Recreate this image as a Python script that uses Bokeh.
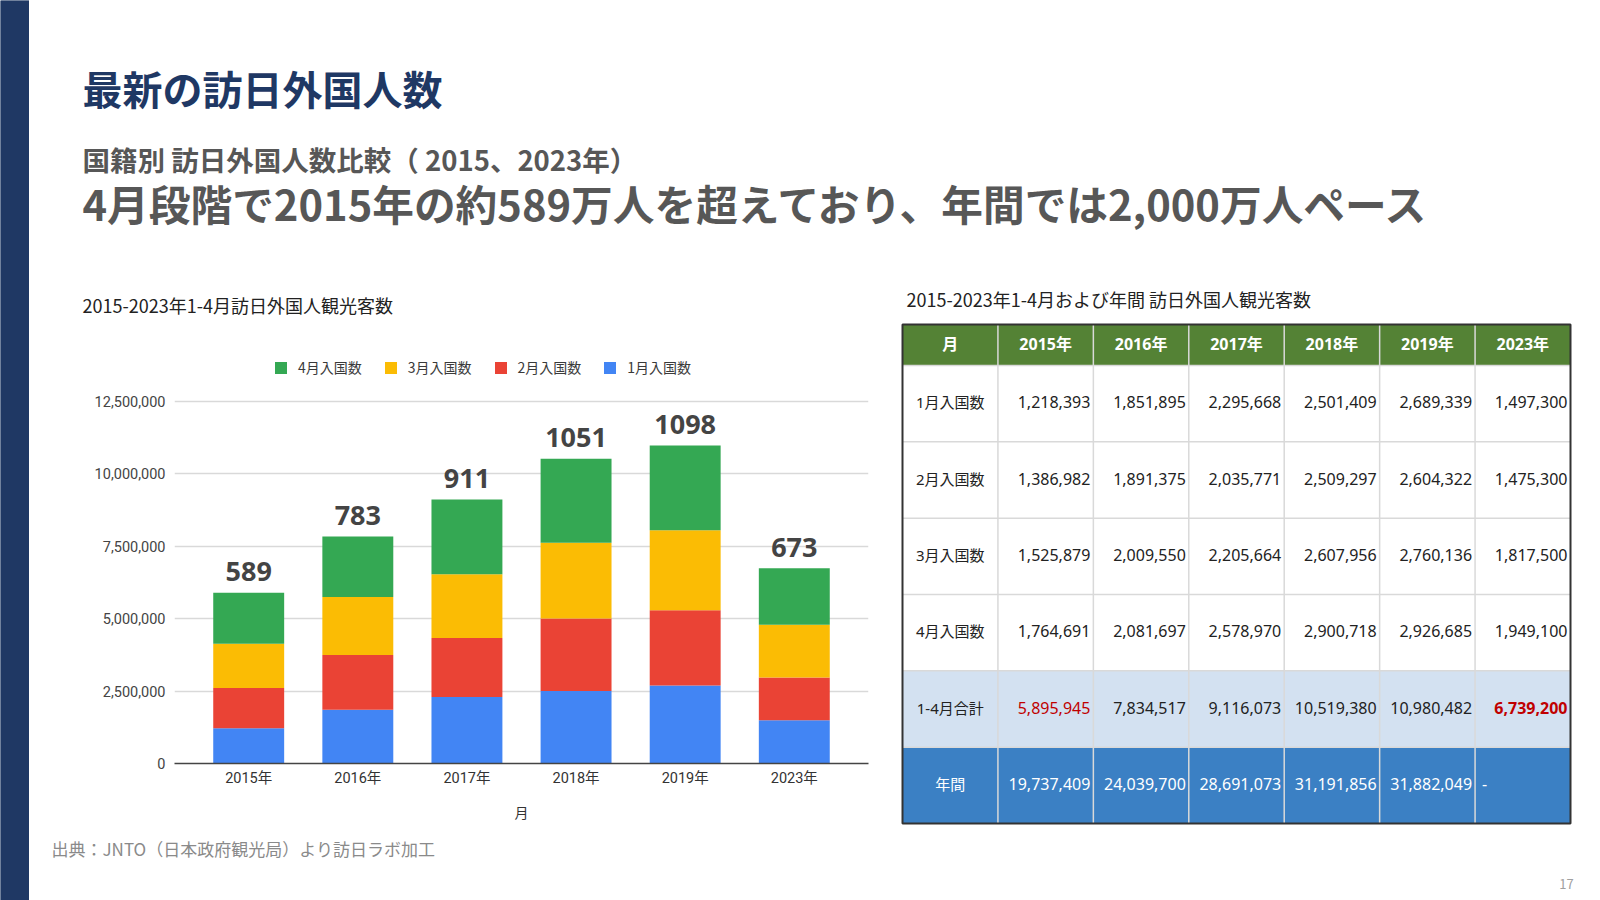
from bokeh.plotting import figure
from bokeh.models import (ColumnDataSource, FactorRange, Range1d, FixedTicker,
                          NumeralTickFormatter, Legend, LegendItem, LabelSet)
from bokeh.layouts import row, column
from bokeh.core.properties import value
from bokeh.embed import file_html
from bokeh.resources import INLINE

# ---------------- data ----------------
years = ["2015年", "2016年", "2017年", "2018年", "2019年", "2023年"]
jan = [1218393, 1851895, 2295668, 2501409, 2689339, 1497300]
feb = [1386982, 1891375, 2035771, 2509297, 2604322, 1475300]
mar = [1525879, 2009550, 2205664, 2607956, 2760136, 1817500]
apr = [1764691, 2081697, 2578970, 2900718, 2926685, 1949100]
totals_jan_apr = [5895945, 7834517, 9116073, 10519380, 10980482, 6739200]
annual = [19737409, 24039700, 28691073, 31191856, 31882049, None]
top_labels = ["589", "783", "911", "1051", "1098", "673"]
series_names = ["1月入国数", "2月入国数", "3月入国数", "4月入国数"]
series_colors = ["#4285f4", "#ea4335", "#fbbc04", "#34a853"]
y_ticks = [0, 2500000, 5000000, 7500000, 10000000, 12500000]
table_header = ["月"] + years
row_labels = series_names + ["1-4月合計", "年間"]

title_text = "最新の訪日外国人数"
subtitle_text = "国籍別 訪日外国人数比較（ 2015、2023年）"
headline_text = "4月段階で2015年の約589万人を超えており、年間では2,000万人ペース"
chart_title = "2015-2023年1-4月訪日外国人観光客数"
table_title = "2015-2023年1-4月および年間 訪日外国人観光客数"
source_text = "出典：JNTO（日本政府観光局）より訪日ラボ加工"
page_no = "17"

NAVY = "#1f3864"
JP = "Noto Sans CJK JP"
LAT = "'Noto Sans', 'Noto Sans CJK JP'"


def canvas(w, h, x0, x1, y0, y1):
    f = figure(width=w, height=h, x_range=Range1d(x0, x1), y_range=Range1d(y1, y0),
               toolbar_location=None, output_backend="svg", min_border=0,
               x_axis_type=None, y_axis_type=None, frame_align=False)
    f.grid.visible = False
    f.outline_line_color = None
    f.background_fill_color = "white"
    f.border_fill_color = "white"
    return f


def txt(f, x, y, s, size, color, font=JP, bold=False, align="left"):
    f.text(x=[x], y=[y], text=[s], text_font=value(font), text_font_size=size,
           text_font_style="bold" if bold else "normal", text_color=color,
           text_baseline="middle", text_align=align)


# ---------------- navy side bar ----------------
nav = figure(width=29, height=900, x_range=Range1d(0, 1), y_range=Range1d(0, 1),
             toolbar_location=None, output_backend="svg", min_border=0,
             x_axis_type=None, y_axis_type=None, frame_align=False)
nav.grid.visible = False
nav.outline_line_color = None
nav.background_fill_color = NAVY
nav.border_fill_color = NAVY
nav.quad(left=[0], right=[1], bottom=[0], top=[1], fill_color=NAVY, line_color=None)

# ---------------- header (incl. chart / table titles) ----------------
head = canvas(1571, 320, 29, 1600, 0, 320)
txt(head, 82, 87, title_text, "40px", NAVY, bold=True)
txt(head, 82, 158, subtitle_text, "27.5px", "#575757", bold=True)
txt(head, 82, 202, headline_text, "41.7px", "#575757", bold=True)
txt(head, 82, 304, chart_title, "18px", "#222222")
txt(head, 906, 298, table_title, "18px", "#222222")

# ---------------- chart ----------------
FRAME_TOP, FRAME_BOTTOM, Y_TOP_TICK = 325, 763, 401   # pixel layout of the plot frame
y_end = y_ticks[-1] * (FRAME_BOTTOM - FRAME_TOP) / (FRAME_BOTTOM - Y_TOP_TICK)

src = ColumnDataSource(dict(year=years, jan=jan, feb=feb, mar=mar, apr=apr,
                            total=totals_jan_apr, lab=top_labels))
p = figure(width=851, height=510,
           x_range=FactorRange(factors=years, range_padding=0.18, range_padding_units="absolute"),
           y_range=Range1d(0, y_end),
           toolbar_location=None, output_backend="svg", frame_align=False,
           min_border_left=145, min_border_right=12, min_border_top=5, min_border_bottom=67)
p.outline_line_color = None
p.background_fill_color = "white"
p.border_fill_color = "white"

rs = p.vbar_stack(["jan", "feb", "mar", "apr"], x="year", width=0.65,
                  fill_color=series_colors, line_color=None, source=src)

p.add_layout(LabelSet(x="year", y="total", text="lab", source=src, y_offset=21,
                      text_align="center", text_baseline="middle",
                      text_font=value("Noto Sans"), text_font_size="27px",
                      text_font_style="bold", text_color="#444444"))

p.xgrid.visible = False
p.ygrid.grid_line_color = "#d9d9d9"
p.ygrid.grid_line_width = 1.5

p.yaxis.ticker = FixedTicker(ticks=y_ticks)
p.yaxis.formatter = NumeralTickFormatter(format="0,0")
p.yaxis.axis_line_color = None
p.yaxis.major_tick_line_color = None
p.yaxis.minor_tick_line_color = None
p.yaxis.major_label_text_font = "Roboto"
p.yaxis.major_label_text_font_size = "14.5px"
p.yaxis.major_label_text_color = "#444444"
p.yaxis.major_label_standoff = 3

p.xaxis.axis_line_color = "#444444"
p.xaxis.axis_line_width = 1.5
p.xaxis.major_tick_line_color = None
p.xaxis.minor_tick_line_color = None
p.xaxis.major_label_text_font = "Roboto, 'Noto Sans CJK JP'"
p.xaxis.major_label_text_font_size = "14.5px"
p.xaxis.major_label_text_color = "#333333"
p.xaxis.major_label_standoff = 0
p.xaxis.axis_label = "月"
p.xaxis.axis_label_text_font = JP
p.xaxis.axis_label_text_font_style = "normal"
p.xaxis.axis_label_text_font_size = "14px"
p.xaxis.axis_label_text_color = "#333333"
p.xaxis.axis_label_standoff = 12

legend = Legend(items=[LegendItem(label=series_names[i], renderers=[rs[i]]) for i in (3, 2, 1, 0)],
                orientation="horizontal", location=(99, 386), padding=0, margin=0,
                spacing=21, label_standoff=10, glyph_width=15, glyph_height=15,
                label_height=15, border_line_color=None, background_fill_alpha=0,
                label_text_font=JP, label_text_font_size="14px", label_text_color="#3a3a3a")
p.add_layout(legend)

# ---------------- table ----------------
tb = canvas(720, 510, 880, 1600, 320, 830)

TL, TR, TT, TB = 902, 1570, 324, 823
HB = 365
TY = -1.5   # small vertical text nudge inside cells
col_edges = [TL + i * (TR - TL) / 7 for i in range(8)]
row_edges = [TT, HB] + [HB + i * (TB - HB) / 6 for i in range(1, 7)]

# backgrounds
tb.quad(left=[TL], right=[TR], top=[TT], bottom=[HB], fill_color="#548235", line_color=None)
tb.quad(left=[TL], right=[TR], top=[row_edges[5]], bottom=[row_edges[6]], fill_color="#d3e1f1", line_color=None)
tb.quad(left=[TL], right=[TR], top=[row_edges[6]], bottom=[row_edges[7]], fill_color="#3b80c4", line_color=None)

# inner lines
hy = row_edges[1:7]
tb.segment(x0=[TL] * len(hy), x1=[TR] * len(hy), y0=hy, y1=hy, line_color="#d9d9d9", line_width=1.5)
vx = col_edges[1:7]
tb.segment(x0=vx, x1=vx, y0=[TT] * len(vx), y1=[TB] * len(vx), line_color="#d9d9d9", line_width=1.5)
tb.quad(left=[TL], right=[TR], top=[TT], bottom=[TB], fill_color=None,
        line_color="#333333", line_width=2)

# header texts
for c, h in enumerate(table_header):
    txt(tb, (col_edges[c] + col_edges[c + 1]) / 2, (TT + HB) / 2 + TY, h, "16px", "white",
        font=LAT, bold=True, align="center")

rows_values = [jan, feb, mar, apr, totals_jan_apr, annual]
for r, lab in enumerate(row_labels):
    yc = (row_edges[r + 1] + row_edges[r + 2]) / 2 + TY
    base_color = "white" if r == 5 else "#222222"
    txt(tb, (col_edges[0] + col_edges[1]) / 2, yc, lab, "15px", base_color, font=LAT, align="center")
    for c, v in enumerate(rows_values[r]):
        color = base_color
        bold = False
        if r == 4 and c == 0:
            color = "#c00000"
        if r == 4 and c == 5:
            color = "#c00000"
            bold = True
        if v is None:
            txt(tb, col_edges[c + 1] + 7, yc, "-", "16px", color, font=LAT, align="left")
        else:
            txt(tb, col_edges[c + 2] - 3, yc, f"{v:,}", "16px", color, font=LAT,
                bold=bold, align="right")

# ---------------- footer ----------------
foot = canvas(1571, 70, 29, 1600, 830, 900)
txt(foot, 51, 848, source_text, "17px", "#8a8a8a")
txt(foot, 1566, 883, page_no, "13px", "#a0a0a0", align="center")

layout = row(nav, column(head, row(p, tb), foot))

open("out.html", "w").write(file_html(layout, INLINE))
